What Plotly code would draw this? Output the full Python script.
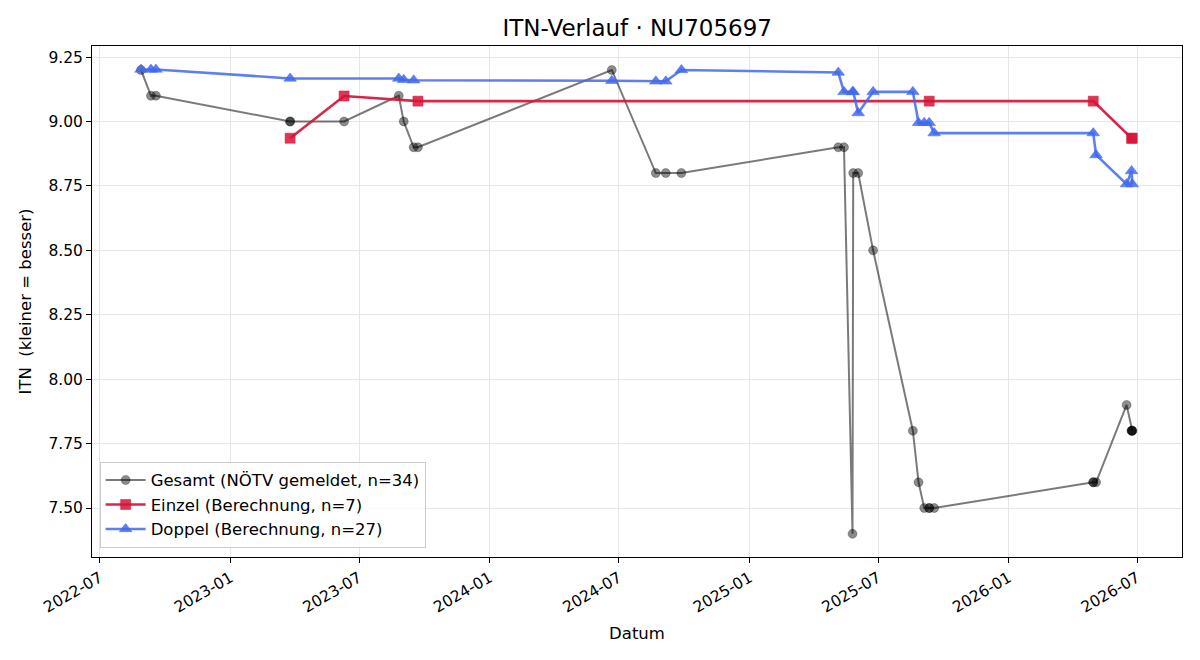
import plotly.graph_objects as go

# ---- data ----
gesamt_dates = [
    "2022-08-28", "2022-09-11", "2022-09-18", "2023-03-26", "2023-03-26",
    "2023-06-10", "2023-08-26", "2023-09-02", "2023-09-16", "2023-09-22",
    "2024-06-21", "2024-08-22", "2024-09-05", "2024-09-27", "2025-05-06",
    "2025-05-14", "2025-05-26", "2025-05-27", "2025-06-03", "2025-06-24",
    "2025-08-19", "2025-08-27", "2025-09-04", "2025-09-11", "2025-09-11",
    "2025-09-18", "2026-04-30", "2026-04-30", "2026-05-04", "2026-06-16",
    "2026-06-23", "2026-06-23", "2026-06-24", "2026-06-24",
]
gesamt_vals = [
    9.2, 9.1, 9.1, 9.0, 9.0,
    9.0, 9.1, 9.0, 8.9, 8.9,
    9.2, 8.8, 8.8, 8.8, 8.9,
    8.9, 7.4, 8.8, 8.8, 8.5,
    7.8, 7.6, 7.5, 7.5, 7.5,
    7.5, 7.6, 7.6, 7.6, 7.9,
    7.8, 7.8, 7.8, 7.8,
]

einzel_dates = ["2023-03-26", "2023-06-10", "2023-09-22", "2025-09-11",
                "2026-04-30", "2026-06-23", "2026-06-24"]
einzel_vals = [8.935, 9.099, 9.079, 9.079, 9.079, 8.935, 8.935]

doppel_dates = [
    "2022-08-28", "2022-09-11", "2022-09-18", "2023-03-26", "2023-08-26",
    "2023-09-02", "2023-09-16", "2024-06-21", "2024-08-22", "2024-09-05",
    "2024-09-27", "2025-05-06", "2025-05-14", "2025-05-26", "2025-05-27",
    "2025-06-03", "2025-06-24", "2025-08-19", "2025-08-27", "2025-09-04",
    "2025-09-11", "2025-09-18", "2026-04-30", "2026-05-04", "2026-06-16",
    "2026-06-23", "2026-06-24",
]
doppel_vals = [
    9.202, 9.202, 9.202, 9.167, 9.167,
    9.162, 9.160, 9.158, 9.156, 9.156,
    9.200, 9.190, 9.115, 9.115, 9.115,
    9.033, 9.115, 9.115, 8.995, 8.995,
    8.995, 8.955, 8.955, 8.870, 8.757,
    8.808, 8.757,
]

x_tick_vals = ["2022-07-01", "2023-01-01", "2023-07-01", "2024-01-01", "2024-07-01",
               "2025-01-01", "2025-07-01", "2026-01-01", "2026-07-01"]
x_tick_text = ["2022-07", "2023-01", "2023-07", "2024-01", "2024-07",
               "2025-01", "2025-07", "2026-01", "2026-07"]
y_tick_vals = [7.5, 7.75, 8.0, 8.25, 8.5, 8.75, 9.0, 9.25]

FONT = "DejaVu Sans"

fig = go.Figure()
fig.add_trace(go.Scatter(
    x=gesamt_dates, y=gesamt_vals, mode="lines+markers",
    name="Gesamt (NÖTV gemeldet, n=34)",
    line=dict(color="rgba(0,0,0,0.52)", width=2),
    marker=dict(symbol="circle", size=9, color="rgba(0,0,0,0.45)",
                line=dict(color="rgba(0,0,0,0.25)", width=1)),
))
fig.add_trace(go.Scatter(
    x=einzel_dates, y=einzel_vals, mode="lines+markers",
    name="Einzel (Berechnung, n=7)",
    line=dict(color="rgba(215,20,55,0.92)", width=2.6),
    marker=dict(symbol="square", size=10, color="rgba(215,20,55,0.85)",
                line=dict(color="rgba(215,20,55,0.5)", width=1)),
))
fig.add_trace(go.Scatter(
    x=doppel_dates, y=doppel_vals, mode="lines+markers",
    name="Doppel (Berechnung, n=27)",
    line=dict(color="rgba(65,105,240,0.85)", width=2.6),
    marker=dict(symbol="triangle-up", size=11, color="rgba(65,105,240,0.85)",
                line=dict(color="rgba(65,105,240,0.5)", width=1)),
))

fig.update_layout(
    width=1200, height=660,
    margin=dict(l=92, r=18, t=46, b=103),
    paper_bgcolor="white", plot_bgcolor="white",
    font=dict(family=FONT, size=16, color="black"),
    title=dict(text="ITN-Verlauf · NU705697", x=0.531, xanchor="center",
               y=0.957, yanchor="middle", font=dict(size=23, family=FONT)),
    showlegend=True,
    legend=dict(x=0.007, y=0.018, xanchor="left", yanchor="bottom",
                bgcolor="rgba(255,255,255,0.8)", bordercolor="#cccccc",
                borderwidth=1, font=dict(size=16.5, family=FONT),
                itemwidth=40, tracegroupgap=0),
)
fig.update_xaxes(
    type="date", range=["2022-06-20", "2026-09-02"],
    tickvals=x_tick_vals, ticktext=x_tick_text, tickangle=-30,
    tickfont=dict(size=15.5), ticks="outside", ticklen=5, tickcolor="black",
    showline=True, linecolor="black", linewidth=1, mirror=True,
    showgrid=True, gridcolor="#e6e6e6", gridwidth=1, zeroline=False,
    title=dict(text="Datum", font=dict(size=16.5), standoff=12),
)
fig.update_yaxes(
    range=[7.31, 9.293], tickvals=y_tick_vals, tickformat=".2f",
    tickfont=dict(size=15.5), ticks="outside", ticklen=5, tickcolor="black",
    showline=True, linecolor="black", linewidth=1, mirror=True,
    showgrid=True, gridcolor="#e6e6e6", gridwidth=1, zeroline=False,
    title=dict(text="ITN  (kleiner = besser)", font=dict(size=16.5), standoff=12),
)

fig.write_html("out.html")
